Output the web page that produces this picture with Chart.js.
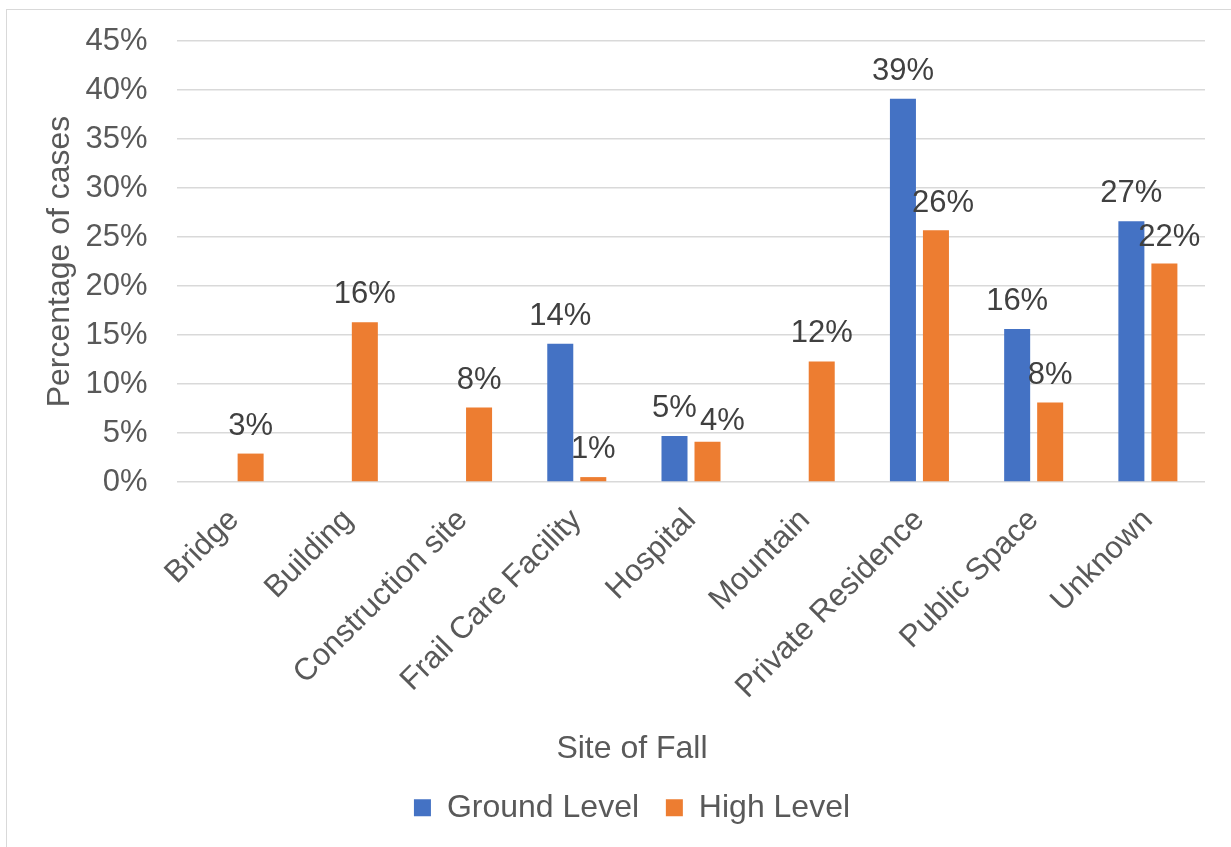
<!DOCTYPE html>
<html>
<head>
<meta charset="utf-8">
<title>Site of Fall</title>
<script src="https://cdn.jsdelivr.net/npm/chart.js@4/dist/chart.umd.min.js"></script>
<style>
    html, body {
        margin: 0;
        padding: 0;
        background: #ffffff;
        overflow: hidden;
    }
    #frame {
        position: absolute;
        left: 6px;
        top: 9px;
        width: 1300px;
        height: 900px;
        border: 1px solid #d9d9d9;
    }
    #chart {
        position: absolute;
        left: 7px;
        top: -7px;
    }
</style>
</head>
<body>
<div id="frame"></div>
<canvas id="chart" width="1250" height="866"></canvas>
<script>
const sites = [
    "Bridge",
    "Building",
    "Construction site",
    "Frail Care Facility",
    "Hospital",
    "Mountain",
    "Private Residence",
    "Public Space",
    "Unknown",
];
const groundLevel = [null, null, null, 14.1, 4.7, null, 39.1, 15.6, 26.6];
const highLevel = [2.9, 16.3, 7.6, 0.5, 4.1, 12.3, 25.7, 8.1, 22.3];
const yTicks = [0, 5, 10, 15, 20, 25, 30, 35, 40, 45];

const FONT = "'Liberation Sans', Arial, sans-serif";
const GREY = "#595959";

// value labels above each bar, rounded to whole percent;
// a few are pushed aside so neighbours don't collide
const barLabels = {
    id: "barLabels",
    afterDatasetsDraw(chart, args, opts) {
        const { ctx } = chart;
        const nudge = opts.nudge || {};
        ctx.save();
        ctx.font = `31px ${FONT}`;
        ctx.fillStyle = "#404040";
        ctx.textAlign = "center";
        ctx.textBaseline = "alphabetic";
        chart.data.datasets.forEach((ds, i) => {
            const meta = chart.getDatasetMeta(i);
            meta.data.forEach((bar, j) => {
                const v = ds.data[j];
                if (v === null || v === undefined) return;
                const [dx, dy] = nudge[i + ":" + j] || [0, 0];
                ctx.fillText(Math.round(v) + "%", bar.x + dx, bar.y - 19 + dy);
            });
        });
        ctx.restore();
    },
};

new Chart(document.getElementById("chart"), {
    type: "bar",
    data: {
        labels: sites,
        datasets: [
            {
                label: "Ground Level",
                data: groundLevel,
                backgroundColor: "#4472C4",
                categoryPercentage: 0.578,
                barPercentage: 0.788,
            },
            {
                label: "High Level",
                data: highLevel,
                backgroundColor: "#ED7D31",
                categoryPercentage: 0.578,
                barPercentage: 0.788,
            },
        ],
    },
    options: {
        responsive: false,
        animation: false,
        layout: {
            padding: { top: 0, right: 0, left: 0, bottom: 25.2 },
        },
        plugins: {
            legend: {
                position: "bottom",
                labels: {
                    color: GREY,
                    font: { family: FONT, size: 32 },
                    boxWidth: 17,
                    boxHeight: 17,
                    padding: 26.8,
                },
            },
            title: {
                display: true,
                text: "Site of Fall",
                position: "bottom",
                weight: 500,
                color: GREY,
                font: { family: FONT, size: 32, weight: "normal", lineHeight: 1 },
                padding: { top: 31, bottom: 0 },
            },
            tooltip: { enabled: false },
            barLabels: {
                nudge: { "1:4": [15, 7], "1:6": [7, 1], "1:8": [5, 2] },
            },
        },
        scales: {
            x: {
                grid: { display: false },
                border: { display: false },
                ticks: {
                    color: GREY,
                    font: { family: FONT, size: 31 },
                    maxRotation: 45,
                    minRotation: 45,
                    autoSkip: false,
                    padding: 12,
                },
                afterFit: (scale) => {
                    scale.height = 220;
                },
            },
            y: {
                min: 0,
                max: 45,
                afterBuildTicks: (scale) => {
                    scale.ticks = yTicks.map((v) => ({ value: v }));
                },
                grid: {
                    color: "#d9d9d9",
                    lineWidth: 1.5,
                    drawTicks: false,
                },
                border: { display: false },
                ticks: {
                    color: GREY,
                    font: { family: FONT, size: 31 },
                    padding: 29.4,
                    callback: (v) => v + "%",
                },
                title: {
                    display: true,
                    text: "Percentage of cases",
                    color: GREY,
                    font: { family: FONT, size: 32 },
                    padding: { top: 34, bottom: 0 },
                },
                afterFit: (scale) => {
                    scale.width = 170;
                },
            },
            // empty right-hand axis, only keeps a margin beside the plot
            yRight: {
                position: "right",
                min: 0,
                max: 45,
                grid: { display: false },
                border: { display: false },
                ticks: { display: false },
                afterFit: (scale) => {
                    scale.width = 52;
                },
            },
        },
    },
    plugins: [barLabels],
});
</script>
</body>
</html>
